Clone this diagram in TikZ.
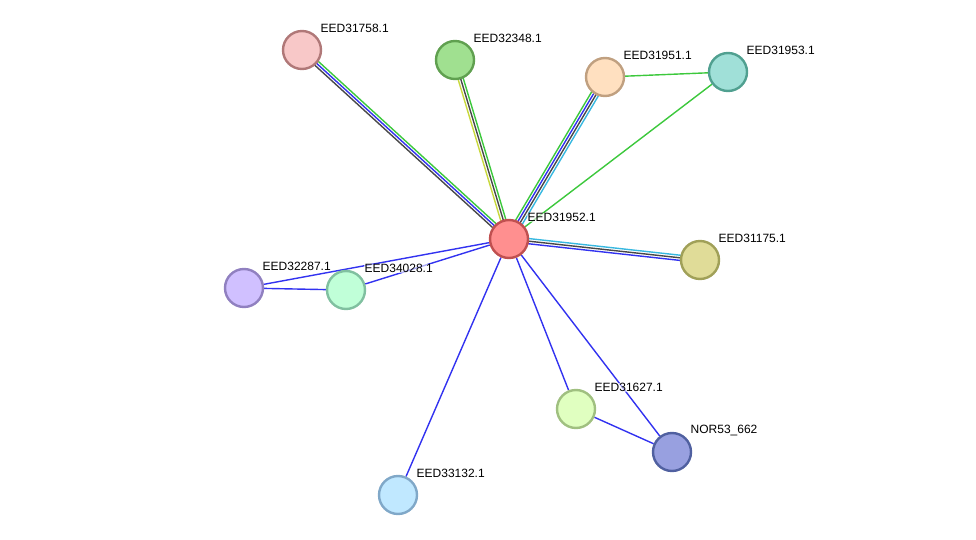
\documentclass[tikz,border=0pt]{standalone}
\usepackage{fontspec}
\setmainfont{Liberation Sans}
\usetikzlibrary{calc,backgrounds}
\definecolor{eg}{HTML}{3CC83C}
\definecolor{eb}{HTML}{3232F0}
\definecolor{ek}{HTML}{484848}
\definecolor{ec}{HTML}{38B8E0}
\definecolor{ey}{HTML}{C8D83C}
\tikzset{
  prot/.style={circle,minimum size=38pt,inner sep=0pt,line width=2.4pt},
  lab/.style={anchor=west,inner sep=0.5pt,font=\fontsize{12}{14}\selectfont,fill=white,fill opacity=0.6,text opacity=1},
  edgeline/.style={line width=1.4pt}
}
\newcommand\pedge[4]{\draw[edgeline,#4] ($(#1)!#3!90:(#2)$) -- ($(#2)!#3!-90:(#1)$);}
\begin{document}
\begin{tikzpicture}[x=1pt,y=-1pt]
\useasboundingbox (0,0) rectangle (976,540);
\node[prot,fill={rgb,255:red,255;green,143;blue,143},draw={rgb,255:red,192;green,80;blue,80}] (c) at (509,239) {};
\node[prot,fill={rgb,255:red,248;green,200;blue,200},draw={rgb,255:red,176;green,120;blue,120}] (n1) at (302,50) {};
\node[prot,fill={rgb,255:red,160;green,224;blue,144},draw={rgb,255:red,96;green,160;blue,80}] (n2) at (455,60) {};
\node[prot,fill={rgb,255:red,255;green,224;blue,192},draw={rgb,255:red,192;green,160;blue,128}] (n3) at (605,77) {};
\node[prot,fill={rgb,255:red,160;green,224;blue,216},draw={rgb,255:red,80;green,160;blue,144}] (n4) at (728,72) {};
\node[prot,fill={rgb,255:red,224;green,220;blue,152},draw={rgb,255:red,160;green,160;blue,88}] (n5) at (700,260) {};
\node[prot,fill={rgb,255:red,208;green,192;blue,255},draw={rgb,255:red,144;green,128;blue,192}] (n6) at (244,288) {};
\node[prot,fill={rgb,255:red,192;green,255;blue,216},draw={rgb,255:red,128;green,192;blue,160}] (n7) at (346,290) {};
\node[prot,fill={rgb,255:red,192;green,232;blue,255},draw={rgb,255:red,128;green,168;blue,200}] (n8) at (398,495) {};
\node[prot,fill={rgb,255:red,224;green,255;blue,192},draw={rgb,255:red,160;green,192;blue,128}] (n9) at (576,409) {};
\node[prot,fill={rgb,255:red,152;green,160;blue,224},draw={rgb,255:red,80;green,96;blue,160}] (n10) at (672,452) {};
\begin{scope}[on background layer]
\pedge{c}{n1}{-2.6pt}{eg}
\pedge{c}{n1}{0pt}{eb}
\pedge{c}{n1}{2.6pt}{ek}
\pedge{c}{n2}{2.6pt}{ey}
\pedge{c}{n2}{0pt}{ek}
\pedge{c}{n2}{-2.6pt}{eg}
\pedge{c}{n3}{3.9pt}{eg}
\pedge{c}{n3}{1.3pt}{eb}
\pedge{c}{n3}{-1.3pt}{ek}
\pedge{c}{n3}{-3.9pt}{ec}
\pedge{c}{n5}{2.6pt}{ec}
\pedge{c}{n5}{0pt}{ek}
\pedge{c}{n5}{-2.6pt}{eb}
\draw[edgeline,eg] (n3) -- (n4);
\draw[edgeline,eg] (c) -- (n4);
\draw[edgeline,eb] (c) -- (n6);
\draw[edgeline,eb] (c) -- (n7);
\draw[edgeline,eb] (n6) -- (n7);
\draw[edgeline,eb] (c) -- (n8);
\draw[edgeline,eb] (c) -- (n9);
\draw[edgeline,eb] (c) -- (n10);
\draw[edgeline,eb] (n9) -- (n10);
\end{scope}
\node[lab] (l0) at ($(c)+(18,-21.5)$) {EED31952.1};
\node[lab] (l1) at ($(n1)+(18,-21.5)$) {EED31758.1};
\node[lab] (l2) at ($(n2)+(18,-21.5)$) {EED32348.1};
\node[lab] (l3) at ($(n3)+(18,-21.5)$) {EED31951.1};
\node[lab] (l4) at ($(n4)+(18,-21.5)$) {EED31953.1};
\node[lab] (l5) at ($(n5)+(18,-21.5)$) {EED31175.1};
\node[lab] (l6) at ($(n6)+(18,-21.5)$) {EED32287.1};
\node[lab] (l7) at ($(n7)+(18,-21.5)$) {EED34028.1};
\node[lab] (l8) at ($(n8)+(18,-21.5)$) {EED33132.1};
\node[lab] (l9) at ($(n9)+(18,-21.5)$) {EED31627.1};
\node[lab] (l10) at ($(n10)+(18,-21.5)$) {NOR53\_662};
\end{tikzpicture}
\end{document}
